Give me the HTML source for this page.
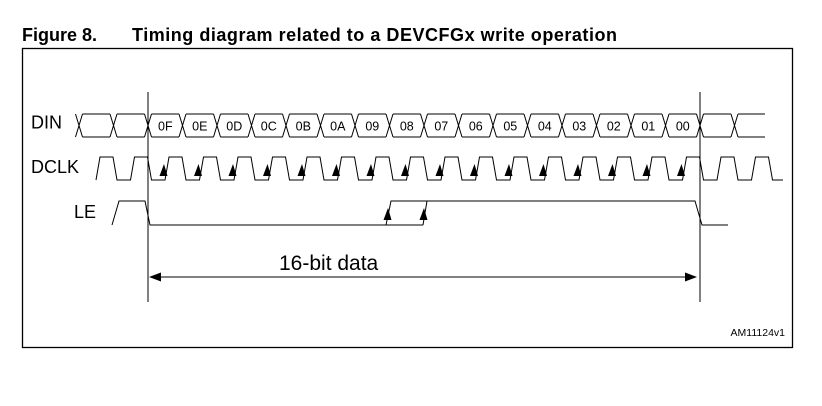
<!DOCTYPE html>
<html><head><meta charset="utf-8"><style>
body{margin:0;background:#fff;width:822px;height:406px;overflow:hidden}
svg{display:block}
text{font-family:"Liberation Sans",Arial,sans-serif}
</style></head><body>
<svg width="822" height="406" viewBox="0 0 822 406" xmlns="http://www.w3.org/2000/svg">
<text x="22" y="41" font-size="18" font-weight="bold" fill="#000">Figure 8.</text>
<text x="132" y="41" font-size="18" font-weight="bold" fill="#000" textLength="485">Timing diagram related to a DEVCFGx write operation</text>
<rect x="22.5" y="48.5" width="770" height="299" fill="none" stroke="#000" stroke-width="1.3"/>
<g fill="none" stroke="#000" stroke-width="1">
<path d="M75.5 114L82.5 137M75.5 137L82.5 114
M110 114L117 137M110 137L117 114
M144.5 114L151.5 137M144.5 137L151.5 114
M179 114L186 137M179 137L186 114
M213.5 114L220.5 137M213.5 137L220.5 114
M248 114L255 137M248 137L255 114
M282.5 114L289.5 137M282.5 137L289.5 114
M317 114L324 137M317 137L324 114
M351.5 114L358.5 137M351.5 137L358.5 114
M386 114L393 137M386 137L393 114
M420.5 114L427.5 137M420.5 137L427.5 114
M455 114L462 137M455 137L462 114
M489.5 114L496.5 137M489.5 137L496.5 114
M524 114L531 137M524 137L531 114
M558.5 114L565.5 137M558.5 137L565.5 114
M593 114L600 137M593 137L600 114
M627.5 114L634.5 137M627.5 137L634.5 114
M662 114L669 137M662 137L669 114
M696.5 114L703.5 137M696.5 137L703.5 114
M731 114L738 137M731 137L738 114"/>
<path d="M82.5 114H110M82.5 137H110M117 114H144.5M117 137H144.5
M151.5 114H179M151.5 137H179M186 114H213.5M186 137H213.5
M220.5 114H248M220.5 137H248M255 114H282.5M255 137H282.5
M289.5 114H317M289.5 137H317M324 114H351.5M324 137H351.5
M358.5 114H386M358.5 137H386M393 114H420.5M393 137H420.5
M427.5 114H455M427.5 137H455M462 114H489.5M462 137H489.5
M496.5 114H524M496.5 137H524M531 114H558.5M531 137H558.5
M565.5 114H593M565.5 137H593M600 114H627.5M600 137H627.5
M634.5 114H662M634.5 137H662M669 114H696.5M669 137H696.5
M703.5 114H731M703.5 137H731M738 114H765M738 137H765"/>
<path d="M96 180L100 157H113L117 180H130.5L134.5 157H147.5L151.5 180H165L169 157H182L186 180H199.5L203.5 157H216.5L220.5 180H234L238 157H251L255 180H268.5L272.5 157H285.5L289.5 180H303L307 157H320L324 180H337.5L341.5 157H354.5L358.5 180H372L376 157H389L393 180H406.5L410.5 157H423.5L427.5 180H441L445 157H458L462 180H475.5L479.5 157H492.5L496.5 180H510L514 157H527L531 180H544.5L548.5 157H561.5L565.5 180H579L583 157H596L600 180H613.5L617.5 157H630.5L634.5 180H648L652 157H665L669 180H682.5L686.5 157H699.5L703.5 180H717L721 157H734L738 180H751.5L755.5 157H768.5L772.5 180H783"/>
<path d="M112 225L119 201H145L150 225H423M386 225L391 201H695L702 225H728M423 225L427 201"/>
<path d="M148 92V302M700 92V302"/>
<path d="M152 277H694"/>
</g>
<g fill="#000">
<path d="M164 164l-4.5 12h8z"/><path d="M198.5 164l-4.5 12h8z"/><path d="M233 164l-4.5 12h8z"/><path d="M267.5 164l-4.5 12h8z"/>
<path d="M302 164l-4.5 12h8z"/><path d="M336.5 164l-4.5 12h8z"/><path d="M371 164l-4.5 12h8z"/><path d="M405.5 164l-4.5 12h8z"/>
<path d="M440 164l-4.5 12h8z"/><path d="M474.5 164l-4.5 12h8z"/><path d="M509 164l-4.5 12h8z"/><path d="M543.5 164l-4.5 12h8z"/>
<path d="M578 164l-4.5 12h8z"/><path d="M612.5 164l-4.5 12h8z"/><path d="M647 164l-4.5 12h8z"/><path d="M681.5 164l-4.5 12h8z"/>
<path d="M388 208l-4.5 12h8z"/><path d="M424 208l-4.5 12h8z"/>
<path d="M149 277l12-4.5v9z"/><path d="M697 277l-12-4.5v9z"/>
</g>
<g font-size="12.5" fill="#000" text-anchor="middle">
<text x="165.3" y="130.5">0F</text><text x="199.8" y="130.5">0E</text><text x="234.3" y="130.5">0D</text><text x="268.8" y="130.5">0C</text>
<text x="303.3" y="130.5">0B</text><text x="337.8" y="130.5">0A</text><text x="372.3" y="130.5">09</text><text x="406.8" y="130.5">08</text>
<text x="441.3" y="130.5">07</text><text x="475.8" y="130.5">06</text><text x="510.3" y="130.5">05</text><text x="544.8" y="130.5">04</text>
<text x="579.3" y="130.5">03</text><text x="613.8" y="130.5">02</text><text x="648.3" y="130.5">01</text><text x="682.8" y="130.5">00</text>
</g>
<g font-size="18" fill="#000">
<text x="31" y="128.5">DIN</text>
<text x="31" y="173">DCLK</text>
<text x="74" y="218">LE</text>
</g>
<text x="279" y="270" font-size="21" fill="#000">16-bit data</text>
<text x="785" y="336" font-size="10.5" text-anchor="end" fill="#000">AM11124v1</text>
</svg>
</body></html>
